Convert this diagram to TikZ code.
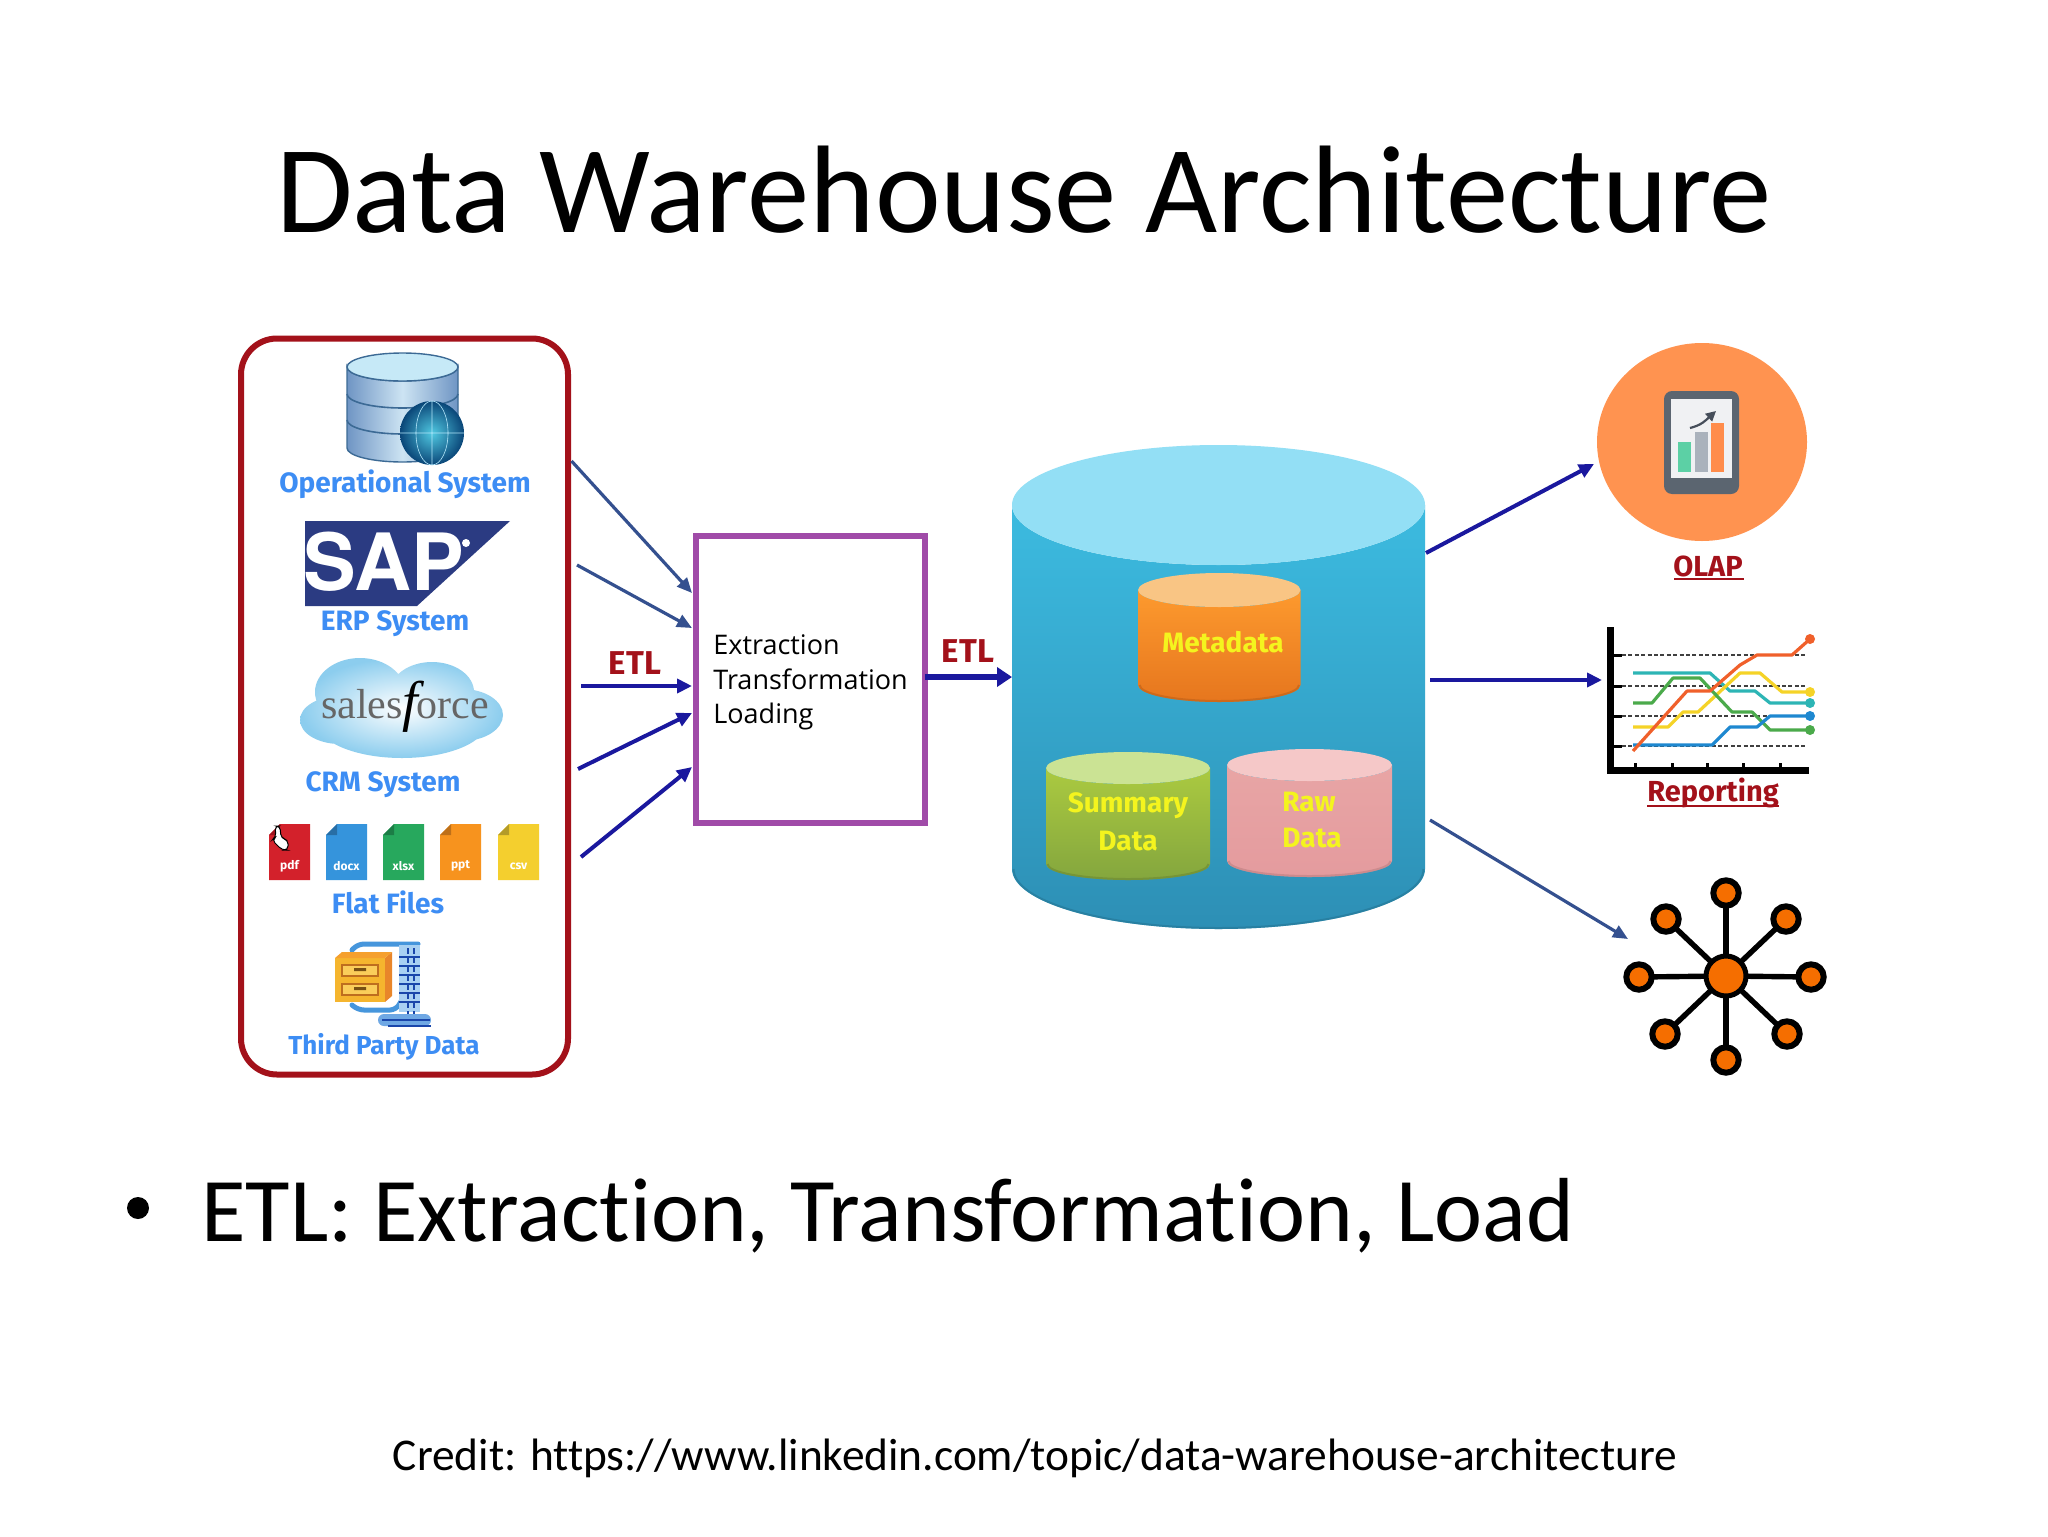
\documentclass[tikz,border=0pt]{standalone}
\usepackage{fontspec}
\usetikzlibrary{arrows.meta,calc,shapes.geometric}
\setmainfont{Carlito}[Ligatures=NoCommon]
\newfontfamily\labfont{Fira Sans}
\newfontfamily\boxfont{Open Sans}
\newfontfamily\sffont{Liberation Serif}
\newfontfamily\sapfont{TeX Gyre Heros}
\definecolor{navyarrow}{HTML}{1A189E}
\definecolor{slatearrow}{HTML}{34508F}
\definecolor{srcblue}{HTML}{3D8DF4}
\definecolor{etlred}{HTML}{A3111A}
\definecolor{dbyellow}{HTML}{F4F41E}
\definecolor{netorange}{HTML}{F56E00}
\definecolor{iconedge}{HTML}{3C6A95}
\definecolor{iconside}{HTML}{6F95C4}
\definecolor{iconmid}{HTML}{CDE4F3}
\definecolor{icontop}{HTML}{C6E9F7}
\definecolor{globein}{HTML}{50C8E1}
\definecolor{globeout}{HTML}{0A4678}
\definecolor{saplogo}{HTML}{2B3B82}
\definecolor{cloudout}{HTML}{8CCDEE}
\definecolor{filered}{HTML}{D3212B}\definecolor{filereddk}{HTML}{A0141E}
\definecolor{fileblue}{HTML}{3594DC}\definecolor{filebluedk}{HTML}{286EA5}
\definecolor{filegreen}{HTML}{27A85D}\definecolor{filegreendk}{HTML}{1C7D46}
\definecolor{fileorange}{HTML}{F7931E}\definecolor{fileorangedk}{HTML}{BE7019}
\definecolor{fileyellow}{HTML}{F4CF2E}\definecolor{fileyellowdk}{HTML}{B49B28}
\definecolor{zipclamp}{HTML}{4696DC}
\definecolor{zipside}{HTML}{E8862A}
\definecolor{zipfront}{HTML}{F5B52E}
\definecolor{ziptop}{HTML}{F5A02E}
\definecolor{zipedge}{HTML}{BE6E1E}
\definecolor{zipdrawer}{HTML}{FACD5A}
\definecolor{ziphandle}{HTML}{785014}
\definecolor{zipspine}{HTML}{A8D0F2}
\definecolor{zipdark}{HTML}{1946AA}
\definecolor{zipbase}{HTML}{6FA8E4}
\definecolor{boxpurple}{HTML}{A04BA8}
\definecolor{whtop}{HTML}{93DFF5}\definecolor{whup}{HTML}{3CBBE0}\definecolor{whlow}{HTML}{2D8FB5}
\definecolor{metatop}{HTML}{F9C584}\definecolor{metaup}{HTML}{FD9A2E}\definecolor{metalow}{HTML}{E6761E}
\definecolor{sumtop}{HTML}{CBE394}\definecolor{sumup}{HTML}{ABCA40}\definecolor{sumlow}{HTML}{84A63E}
\definecolor{rawtop}{HTML}{F5C8C8}\definecolor{rawup}{HTML}{E8A5A5}\definecolor{rawlow}{HTML}{E49B9E}
\definecolor{olapfill}{HTML}{FF9350}
\definecolor{tabframe}{HTML}{5B6570}
\definecolor{tabscreen}{HTML}{F0F1F3}
\definecolor{bargreen}{HTML}{5CD0A5}
\definecolor{bargray}{HTML}{AAB2BC}
\definecolor{barorange}{HTML}{FF8C4B}
\definecolor{tabarrow}{HTML}{464E5A}
\definecolor{lteal}{HTML}{2DB5B5}
\definecolor{lyellow}{HTML}{F5D327}
\definecolor{lgreen}{HTML}{4BAA4B}
\definecolor{lblue}{HTML}{1E88D0}
\definecolor{lred}{HTML}{F0602B}
\tikzset{
 flow/.style={draw=navyarrow,line width=2pt,-{Triangle[length=7.5pt,width=7pt]}},
 flowS/.style={draw=slatearrow,line width=1.6pt,-{Triangle[length=7.5pt,width=6.5pt]}},
 flowB/.style={draw=navyarrow,line width=3pt,-{Triangle[length=7.5pt,width=9.5pt]}},
 srclab/.style={inner sep=0pt,text=srcblue,font=\labfont\bfseries\fontsize{14}{16}\selectfont},
 etllab/.style={inner sep=0pt,text=etlred,font=\labfont\bfseries\fontsize{14.5}{17}\selectfont},
 etlbig/.style={inner sep=0pt,text=etlred,font=\labfont\bfseries\fontsize{16.5}{19}\selectfont},
 dblab/.style={inner sep=0pt,text=dbyellow,font=\labfont\bfseries\fontsize{14}{17}\selectfont},
 boxline/.style={inner sep=0pt,anchor=west,font=\boxfont\fontsize{13.5}{16}\selectfont},
 filelab/.style={inner sep=0pt,text=white,font=\labfont\bfseries\fontsize{6}{7}\selectfont},
 sat/.style={circle,draw=black,line width=3pt,fill=netorange,minimum size=12.7pt,inner sep=0pt,outer sep=0pt},
 hub/.style={circle,draw=black,line width=2.5pt,fill=netorange,minimum size=20pt,inner sep=0pt,outer sep=0pt},
 spoke/.style={draw=black,line width=2.7pt},
 trend/.style={line width=1.6pt,line join=round},
 gridl/.style={draw=black!75,line width=.7pt,dash pattern=on 2pt off 1.2pt},
}
% x1 x2 ytop ybot ry topcol bodytop bodybot
\newcommand{\cylshape}[8]{%
 \shade[top color=#7,bottom color=#8]
  (#1,#3) -- (#1,#4) arc[start angle=180,end angle=0,x radius={(#2-#1)/2},y radius=#5]
  -- (#2,#3) arc[start angle=0,end angle=180,x radius={(#2-#1)/2},y radius=#5] -- cycle;
 \fill[#6] ({(#1+#2)/2},#3) ellipse[x radius={(#2-#1)/2},y radius=#5];
 \draw[#8!85!black,line width=1pt,opacity=.7] ({#1+1.5},#4) arc[start angle=180,end angle=0,x radius={(#2-#1)/2-1.5},y radius={#5-1}];
}
% x color darkfold label
\newcommand{\fileicon}[4]{%
 \fill[#2] (#1+11,824) -- (#1+41,824) -- (#1+41,880) -- (#1,880) -- (#1,835) -- cycle;
 \fill[#3] (#1+11,824) -- (#1+11,835) -- (#1,835) -- cycle;
 \node[filelab] at (#1+20.5,866) {#4};
}
\begin{document}
\begin{tikzpicture}[x=0.5pt,y=-0.5pt]
\useasboundingbox (0,0) rectangle (2048,1536);
\fill[white] (0,0) rectangle (2048,1536);

% title and text
\node[inner sep=0pt,anchor=base] (title) at (1024,232) {\fontsize{62.3}{70}\selectfont Data Warehouse Architecture};
\node[inner sep=0pt,anchor=base west] (bullettext) at (201,1241) {\fontsize{45.5}{50}\selectfont ETL: Extraction, Transformation, Load};
\fill[black] (138,1208) circle (11);
\node[inner sep=0pt,anchor=base] (credit) at (1035,1470) {\fontsize{22.7}{26}\selectfont Credit: https://www.linkedin.com/topic/data-warehouse-architecture};

% source panel
\node[draw=etlred,line width=3pt,rounded corners=18pt,minimum width=163.5pt,minimum height=368pt,inner sep=0pt,outer sep=0pt] (sources) at (404.5,706.5) {};

% operational db icon
\shade[left color=iconside,right color=iconside,middle color=iconmid,draw=iconedge,line width=.7pt]
 (347,367) -- (347,448) arc[start angle=180,end angle=0,x radius=55.5,y radius=14] -- (458,367) arc[start angle=0,end angle=180,x radius=55.5,y radius=14] -- cycle;
\filldraw[fill=icontop,draw=iconedge,line width=.7pt] (402.5,367) ellipse[x radius=55.5,y radius=14];
\draw[iconedge,line width=.8pt] (347,394) arc[start angle=180,end angle=0,x radius=55.5,y radius=14];
\draw[iconedge,line width=.8pt] (347,420) arc[start angle=180,end angle=0,x radius=55.5,y radius=14];
\shade[inner color=globein,outer color=globeout] (432,433) circle (32);
\draw[white!70!cyan,line width=.3pt] (432,401) -- (432,465) (400,433) -- (464,433) (432,433) ellipse[x radius=16,y radius=32];
\node[srclab] (opl) at (405,484) {Operational System};

% SAP logo
\fill[saplogo] (305,521) -- (510,521) -- (417,606) -- (305,606) -- cycle;
\node[inner sep=0pt,text=white,anchor=base west] (sap) at (303,590) {\sapfont\bfseries\fontsize{39.5}{40}\selectfont SAP};
\fill[white] (466,543) circle (4);
\node[srclab] (erp) at (395,624) {ERP System};

% salesforce cloud
\shade[inner color=white,outer color=cloudout]
 (360,692) ellipse[x radius=45,y radius=34]
 (432,692) ellipse[x radius=42,y radius=30]
 (340,720) ellipse[x radius=40,y radius=24]
 (402,722) ellipse[x radius=85,y radius=36]
 (462,715) ellipse[x radius=41,y radius=26];
\node[inner sep=0pt] (sf) at (405,707) {\sffont\fontsize{21}{22}\selectfont\textcolor{black!60}{sales}\raisebox{-1pt}{\itshape\fontsize{28}{28}\selectfont f}\kern-1pt\textcolor{black!60}{orce}};
\node[srclab] (crm) at (383,785) {CRM System};

% file icons
\fileicon{269}{filered}{filereddk}{pdf}
\fileicon{326}{fileblue}{filebluedk}{docx}
\fileicon{383}{filegreen}{filegreendk}{xlsx}
\fileicon{440}{fileorange}{fileorangedk}{ppt}
\fileicon{498}{fileyellow}{fileyellowdk}{csv}
\filldraw[fill=white,draw=black,line width=.5pt,rounded corners=2pt] (275,826) -- (280,826) -- (281,838) -- (288,840) -- (288,850) -- (282,850) -- (272,840) -- (276,837) -- cycle;
\node[srclab] (flat) at (388,902) {Flat Files};

% compressed archive icon
\draw[zipclamp,line width=2.5pt,line cap=round,rounded corners=3pt] (352,950) -- (358,944) -- (418,944);
\draw[zipclamp,line width=2.5pt,line cap=round,rounded corners=3pt] (352,1005) -- (358,1010) -- (396,1010) -- (403,998);
\fill[zipside] (385,958) -- (392,952) -- (392,996) -- (385,1002) -- cycle;
\fill[zipfront] (335,958) -- (385,958) -- (385,1002) -- (335,1002) -- cycle;
\fill[ziptop] (335,958) -- (342,952) -- (392,952) -- (385,958) -- cycle;
\filldraw[fill=zipdrawer,draw=zipedge,line width=.6pt] (342,965) rectangle (378,976) (342,984) rectangle (378,995);
\fill[ziphandle] (354,968) rectangle (366,971) (354,987) rectangle (366,990);
\fill[zipspine] (399,945) rectangle (420,1012);
\draw[zipdark,line width=1.3pt] (399,957) -- (420,957) (399,966) -- (420,966) (399,975) -- (420,975) (399,984) -- (420,984) (399,993) -- (420,993) (399,1002) -- (420,1002);
\draw[zipdark,line width=1.2pt,dash pattern=on 3pt off 1.5pt] (408,948) -- (408,1016) (414,948) -- (414,1016);
\fill[zipbase,rounded corners=3pt] (378,1014) rectangle (431,1026);
\draw[zipdark,line width=1pt] (382,1020) -- (430,1020) (388,1026) -- (431,1026);
\node[srclab,font=\labfont\bfseries\fontsize{13}{16}\selectfont] (third) at (384,1047) {Third Party Data};

% ETL box
\node[draw=boxpurple,fill=white,line width=3pt,minimum width=114.5pt,minimum height=143.5pt,inner sep=0pt,outer sep=0pt] (etlbox) at (810,679) {};
\node[boxline] (l1) at (713,645) {Extraction};
\node[boxline] (l2) at (713,679) {Transformation};
\node[boxline] (l3) at (713,716) {Loading};

% warehouse
\cylshape{1012}{1425}{505}{869}{60}{whtop}{whup}{whlow}
\cylshape{1138}{1300.5}{590}{685}{17}{metatop}{metaup}{metalow}
\cylshape{1046}{1210}{768}{864}{16}{sumtop}{sumup}{sumlow}
\cylshape{1227}{1392}{765}{861}{16}{rawtop}{rawup}{rawlow}
\node[dblab] (meta) at (1223,642) {Metadata};
\node[dblab] (sum1) at (1128,806) {Summary};
\node[dblab] (sum2) at (1128,841) {Data};
\node[dblab] (raw1) at (1309,802) {Raw};
\node[dblab] (raw2) at (1312,838) {Data};

% connector ends
\coordinate (s1) at (571.5,461);
\coordinate (s2) at (577,565);
\coordinate (s3) at (581,686);
\coordinate (s4) at (578,769);
\coordinate (s5) at (581,857);
\coordinate (t1) at (692,593);
\coordinate (t2) at (692,628);
\coordinate (t3) at (692,686);
\coordinate (t4) at (692,713);
\coordinate (t5) at (692,767);
\coordinate (whw) at (1012,677);
\coordinate (o1) at (1426,553);
\coordinate (o2) at (1430,680);
\coordinate (o3) at (1430,820);
\coordinate (e1) at (1594,464);
\coordinate (e2) at (1602,680);
\coordinate (e3) at (1628,939);

\draw[flowS] (s1) -- (t1);
\draw[flowS] (s2) -- (t2);
\draw[flow] (s3) -- (t3);
\draw[flow] (s4) -- (t4);
\draw[flow] (s5) -- (t5);
\draw[flowB] (etlbox.east |- whw) -- (whw);
\draw[flow] (o1) -- (e1);
\draw[flow] (o2) -- (e2);
\draw[flowS] (o3) -- (e3);
\node[etlbig] (etl1) at (635,663) {ETL};
\node[etlbig] (etl2) at (968,651) {ETL};

% OLAP
\node[ellipse,fill=olapfill,minimum width=105pt,minimum height=99pt,inner sep=0pt,outer sep=0pt] (olap) at (1702,442) {};
\fill[tabframe,rounded corners=4pt] (1664,391) rectangle (1739,494);
\fill[tabscreen] (1671,399) rectangle (1732,478);
\fill[bargreen] (1678,442) rectangle (1691,472);
\fill[bargray] (1695,432) rectangle (1708,472);
\fill[barorange] (1711,423) rectangle (1724,472);
\draw[tabarrow,line width=1.1pt,-{Triangle[length=5pt,width=5pt]}] (1690,428) .. controls (1702,425) and (1706,420) .. (1716,411);
\node[etllab] (olapl) at (1708,566) {OLAP};
\draw[etlred,line width=.6pt] (1674,579) -- (1744,579);

% reporting chart
\draw[gridl] (1622,655) -- (1807,655) (1622,686) -- (1807,686) (1622,716) -- (1807,716) (1622,746) -- (1807,746);
\draw[trend,lteal] (1633,673) -- (1710,673) -- (1730,691) -- (1755,691) -- (1770,703) -- (1810,703);
\draw[trend,lyellow] (1633,727) -- (1668,727) -- (1683,712) -- (1698,712) -- (1740,673) -- (1760,673) -- (1782,692) -- (1810,692);
\draw[trend,lgreen] (1633,703) -- (1652,703) -- (1673,678) -- (1700,678) -- (1732,712) -- (1752,712) -- (1770,730) -- (1810,730);
\draw[trend,lblue] (1633,745) -- (1712,745) -- (1730,727) -- (1757,727) -- (1770,716) -- (1810,716);
\draw[trend,lred] (1633,751) -- (1687,691) -- (1710,691) -- (1740,665) -- (1757,655) -- (1792,655) -- (1810,639);
\fill[lred] (1810,639) circle (5);
\fill[lyellow] (1810,692) circle (5);
\fill[lteal] (1810,703) circle (5);
\fill[lblue] (1810,716) circle (5);
\fill[lgreen] (1810,730) circle (5);
\draw[black,line width=3.5pt] (1610,627) -- (1610,770) -- (1809,770);
\draw[black,line width=1.5pt] (1610,655) -- (1622,655) (1610,686) -- (1622,686) (1610,716) -- (1622,716) (1610,746) -- (1622,746);
\draw[black,line width=1.5pt] (1635,763) -- (1635,770) (1672,763) -- (1672,770) (1707,763) -- (1707,770) (1743,763) -- (1743,770) (1780,763) -- (1780,770);
\node[etllab] (rep) at (1713,793) {Reporting};
\draw[etlred,line width=.6pt] (1647,806) -- (1779,806);

% network
\node[hub] (hubn) at (1726,976) {};
\node[sat] (n1) at (1726,893) {};
\node[sat] (n2) at (1786,919) {};
\node[sat] (n3) at (1811,977) {};
\node[sat] (n4) at (1787,1034) {};
\node[sat] (n5) at (1726,1060) {};
\node[sat] (n6) at (1665,1034) {};
\node[sat] (n7) at (1639,977) {};
\node[sat] (n8) at (1666,919) {};
\foreach \n in {n1,n2,n3,n4,n5,n6,n7,n8} \draw[spoke] (hubn) -- (\n);
\end{tikzpicture}
\end{document}
